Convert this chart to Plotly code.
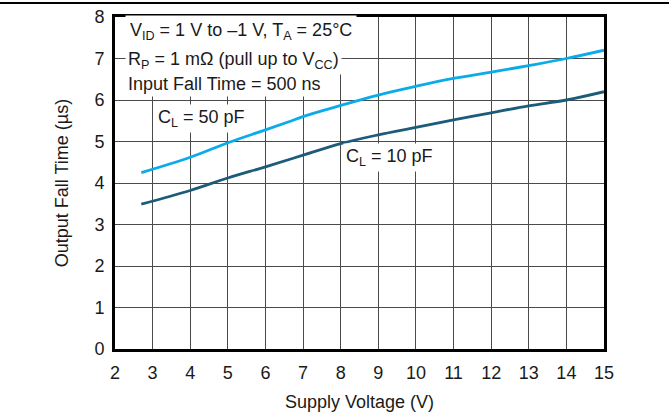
import plotly.graph_objects as go

# Data
x_50pf = [2.7, 4, 5, 6, 6.6, 7, 8, 9, 10, 11, 12, 13, 14, 15]
y_50pf = [4.25, 4.62, 4.97, 5.28, 5.47, 5.6, 5.87, 6.12, 6.33, 6.52, 6.67, 6.83, 7.0, 7.2]
x_10pf = [2.7, 4, 5, 6, 7, 8, 9, 10, 11, 12, 13, 14, 15]
y_10pf = [3.49, 3.82, 4.12, 4.39, 4.67, 4.95, 5.16, 5.34, 5.52, 5.69, 5.86, 6.0, 6.2]
x_ticks = list(range(2, 16))
y_ticks = list(range(0, 9))

FONT = "Liberation Sans, Arial, sans-serif"

fig = go.Figure()
fig.add_trace(go.Scatter(x=x_50pf, y=y_50pf, mode="lines",
                         line=dict(color="#0aabeb", width=2.8, shape="spline"),
                         showlegend=False, hoverinfo="skip"))
fig.add_trace(go.Scatter(x=x_10pf, y=y_10pf, mode="lines",
                         line=dict(color="#1d5b7a", width=2.8, shape="spline"),
                         showlegend=False, hoverinfo="skip"))

fig.update_layout(
    width=669, height=413,
    margin=dict(l=115, r=65, t=17, b=64, autoexpand=False),
    paper_bgcolor="white", plot_bgcolor="white",
    font=dict(family=FONT, size=18, color="#1a1a1a"),
    xaxis=dict(range=[2, 15], tickvals=x_ticks, showgrid=True, automargin=False,
               gridcolor="#4a4a4a", gridwidth=1, showline=True, linecolor="black",
               linewidth=3, mirror=True, ticks="outside", ticklen=5,
               tickcolor="rgba(0,0,0,0)", zeroline=False,
               tickfont=dict(size=18),
               title=dict(text="Supply Voltage (V)", font=dict(size=18), standoff=14)),
    yaxis=dict(range=[0, 8], tickvals=y_ticks, showgrid=True, automargin=False,
               gridcolor="#4a4a4a", gridwidth=1, showline=True, linecolor="black",
               linewidth=3, mirror=True, ticks="outside", ticklen=4,
               tickcolor="rgba(0,0,0,0)", zeroline=False,
               tickfont=dict(size=18),
               title=dict(text="Output Fall Time (µs)", font=dict(size=18), standoff=22)),
)

# top frame line across full width
fig.add_shape(type="line", xref="paper", yref="paper",
              x0=-0.25, x1=1.2, y0=1.042, y1=1.042,
              line=dict(color="black", width=2))

ann_common = dict(xref="x", yref="y", showarrow=False, xanchor="left",
                  bgcolor="white", font=dict(family=FONT, size=18, color="#1a1a1a"))
fig.add_annotation(x=2.26, y=7.66, text="V<sub>ID</sub> = 1 V to –1 V, T<sub>A</sub> = 25°C",
                   borderpad=4, **ann_common)
fig.add_annotation(x=2.26, y=6.94, text="R<sub>P</sub> = 1 mΩ (pull up to V<sub>CC</sub>)",
                   borderpad=2, **ann_common)
fig.add_annotation(x=2.26, y=6.38, text="Input Fall Time = 500 ns",
                   borderpad=2, **ann_common)
fig.add_annotation(x=3.06, y=5.55, text="C<sub>L</sub> = 50 pF", borderpad=2, **ann_common)
fig.add_annotation(x=8.05, y=4.62, text="C<sub>L</sub> = 10 pF", borderpad=2, **ann_common)

fig.write_html(
    "out.html", config={"displayModeBar": False},
    post_script=("document.documentElement.style.margin='0';"
                 "document.body.style.margin='0';document.body.style.padding='0';"
                 "document.body.style.overflow='hidden';window.scrollTo(0,0);"))
